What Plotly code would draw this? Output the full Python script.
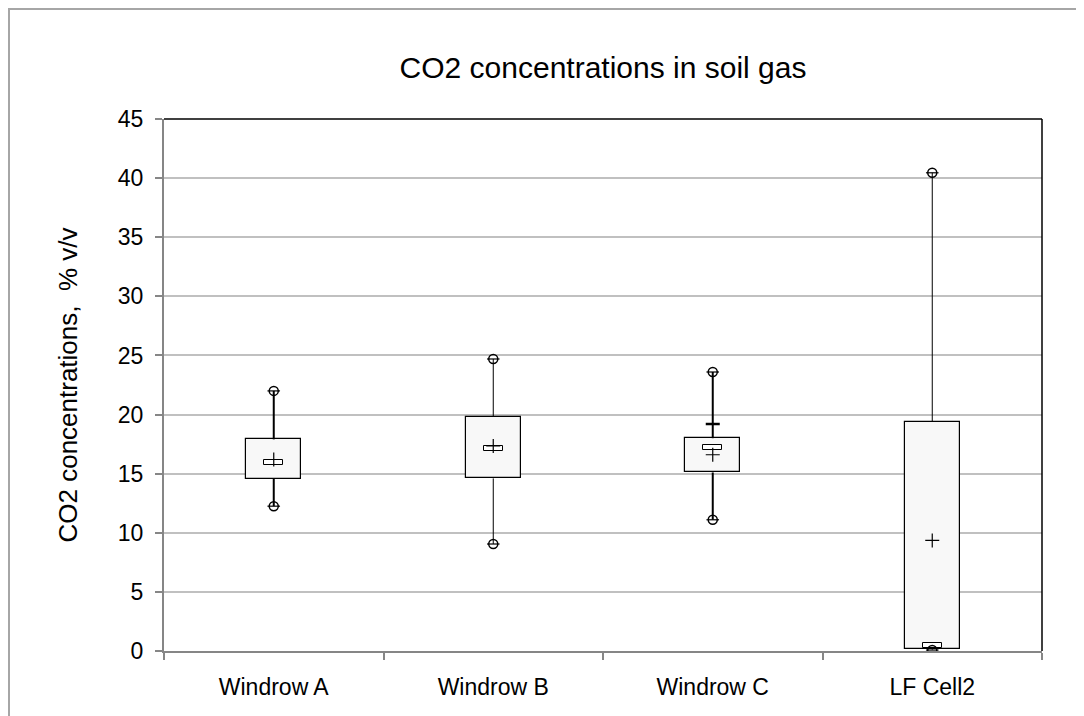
import plotly.graph_objects as go

# ---- data ----
categories = ["Windrow A", "Windrow B", "Windrow C", "LF Cell2"]
q1 = [14.55, 14.6, 15.1, 0.14]
q3 = [17.9, 19.8, 18.0, 19.4]
medians = [15.95, 17.1, 17.2, 0.45]
means = [16.2, 17.35, 16.6, 9.35]
mins = [12.25, 9.05, 11.1, 0.08]
maxs = [22.0, 24.7, 23.6, 40.45]
extra_cats = ["Windrow C"]
extra_vals = [19.2]
y_ticks = [0, 5, 10, 15, 20, 25, 30, 35, 40, 45]

# ---- styles ----
FONT = "Liberation Sans, Arial, sans-serif"
whisker_widths = [2, 1, 2, 1]
median_half = 0.2
OFF = 8  # page body margin

fig = go.Figure()

# boxes (Q1..Q3)
fig.add_trace(go.Bar(
    x=categories, y=[b - a for a, b in zip(q1, q3)], base=q1, width=0.25,
    marker=dict(color="#f8f8f8", line=dict(color="black", width=1.2)),
    hoverinfo="skip"))

# median markers (small rectangles)
fig.add_trace(go.Bar(
    x=categories, y=[2 * median_half] * len(categories),
    base=[m - median_half for m in medians], width=0.085,
    marker=dict(color="white", line=dict(color="black", width=1)),
    hoverinfo="skip"))

# whiskers
for c, lo, hi, mn, mx, w in zip(categories, q1, q3, mins, maxs, whisker_widths):
    fig.add_trace(go.Scatter(
        x=[c, c, None, c, c], y=[hi, mx, None, lo, mn], mode="lines",
        line=dict(color="black", width=w), hoverinfo="skip"))

# whisker-end markers
fig.add_trace(go.Scatter(
    x=categories + categories, y=maxs + mins, mode="markers",
    marker=dict(symbol="circle-open", size=9, color="black",
                line=dict(color="black", width=1.5)), hoverinfo="skip"))
fig.add_trace(go.Scatter(
    x=categories + categories, y=maxs + mins, mode="markers",
    marker=dict(symbol="line-ew", size=9, color="black",
                line=dict(color="black", width=1.2)), hoverinfo="skip"))

# extra dash on Windrow C whisker
fig.add_trace(go.Scatter(
    x=extra_cats, y=extra_vals, mode="markers",
    marker=dict(symbol="line-ew", size=10, color="black",
                line=dict(color="black", width=2.5)), hoverinfo="skip"))

# means
fig.add_trace(go.Scatter(
    x=categories, y=means, mode="markers",
    marker=dict(symbol="cross-thin-open", size=10, color="black",
                line=dict(color="black", width=1.2)), hoverinfo="skip"))

# plot-area geometry (in page pixels of the reference)
L, R, T, B = 164, 1042, 119, 651
W, H = 1084 - OFF, 716 - OFF
pl, pt = L - OFF, T - OFF          # plot origin in figure pixels
pw, ph = R - L, B - T
shapes = [
    dict(type="line", xref="paper", yref="paper", x0=0, x1=1, y0=1, y1=1,
         line=dict(color="black", width=1.5)),
    dict(type="line", xref="paper", yref="paper", x0=1, x1=1, y0=0, y1=1,
         line=dict(color="black", width=1.5)),
    dict(type="rect", xref="paper", yref="paper",
         x0=(1 - pl) / pw, x1=1.2, y0=-0.3, y1=(pt + ph - 1) / ph,
         line=dict(color="#a6a6a6", width=2)),
]

fig.update_layout(
    width=W, height=H,
    margin=dict(l=pl, r=W - (pl + pw), t=pt, b=H - (pt + ph)),
    paper_bgcolor="white", plot_bgcolor="white",
    barmode="overlay", showlegend=False, bargap=0,
    font=dict(family=FONT, color="black"),
    title=dict(text="CO2 concentrations in soil gas", font=dict(size=30, family=FONT),
               x=((L + R) / 2 - OFF) / W, xanchor="center",
               yref="container", y=1 - (67 - OFF) / H, yanchor="middle"),
    shapes=shapes,
)
fig.update_xaxes(
    type="category", range=[-0.5, 3.5], showgrid=False, zeroline=False,
    showline=True, linecolor="#868686", linewidth=2,
    ticks="outside", tickson="boundaries", ticklen=7, tickwidth=1.5, tickcolor="#868686",
    tickfont=dict(size=23, family=FONT), ticklabelstandoff=14)
fig.update_yaxes(
    range=[0, 45], tickvals=y_ticks, showgrid=True, gridcolor="#c0c0c0", gridwidth=1.5,
    zeroline=False, showline=True, linecolor="#868686", linewidth=2,
    ticks="outside", ticklen=7, tickwidth=1.5, tickcolor="#868686",
    tickfont=dict(size=23, family=FONT), ticklabelstandoff=7,
    title=dict(text="CO2 concentrations,  % v/v", font=dict(size=26, family=FONT), standoff=33))

fig.write_html("out.html")
